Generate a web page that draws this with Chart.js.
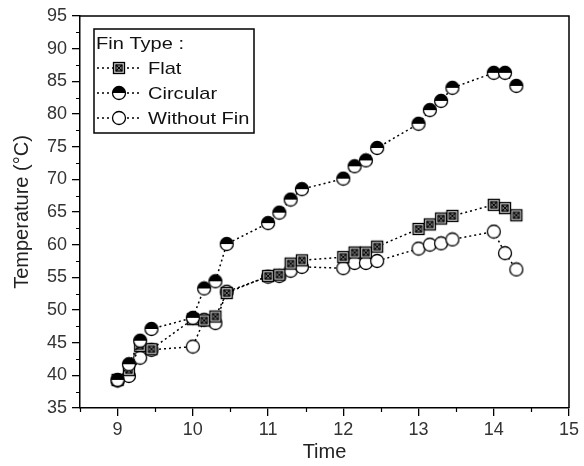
<!DOCTYPE html>
<html>
<head>
<meta charset="utf-8">
<title>Temperature vs Time by Fin Type</title>
<script src="https://cdn.jsdelivr.net/npm/chart.js@4.4.3/dist/chart.umd.min.js"></script>
<style>
  html, body { margin: 0; padding: 0; background: #fff; }
  #chart { display: block; }
</style>
</head>
<body>
<canvas id="chart" width="584" height="466"></canvas>
<script>
/* Temperature readings per fin type, clock time read as hh.mm */
const times = [9.00, 9.15, 9.30, 9.45, 10.00, 10.15, 10.30, 10.45, 11.00, 11.15, 11.30, 11.45,
               12.00, 12.15, 12.30, 12.45, 13.00, 13.15, 13.30, 13.45, 14.00, 14.15, 14.30];
const flatTemps     = [39.3, 40.8, 44.5, 44.0, 48.6, 48.4, 49.0, 52.6, 55.2, 55.4, 57.1, 57.6,
                       58.1, 58.8, 58.8, 59.7, 62.4, 63.1, 64.0, 64.4, 66.1, 65.6, 64.5];
const circularTemps = [39.3, 41.7, 45.3, 47.1, 48.8, 53.3, 54.4, 60.1, 63.3, 64.9, 66.9, 68.5,
                       70.1, 72.0, 72.9, 74.8, 78.5, 80.6, 82.0, 84.0, 86.3, 86.3, 84.3];
const noFinTemps    = [39.2, 39.9, 42.7, 43.9, 44.4, 48.5, 48.0, 52.8, 55.1, 55.2, 56.0, 56.6,
                       56.4, 57.2, 57.2, 57.5, 59.4, 60.0, 60.2, 60.8, 62.0, 58.7, 56.2];
const seriesNames = ['Flat', 'Circular', 'Without Fin'];
const xTickValues = [9, 10, 11, 12, 13, 14, 15];
const legendTitle = 'Fin Type :';
const xTitle = 'Time';
const yTitle = 'Temperature (°C)';

const FONT = '"Liberation Sans", Arial, sans-serif';

/* ── marker images ── */
function makeMarker(kind) {
  const c = document.createElement('canvas');
  c.width = 16; c.height = 16;
  const g = c.getContext('2d');
  g.lineWidth = 1.3;
  g.strokeStyle = '#000';
  if (kind === 'flat') {
    g.fillStyle = '#c8c8c8';
    g.fillRect(2.5, 2.5, 11, 11);
    g.strokeRect(2.5, 2.5, 11, 11);
    g.strokeRect(5, 5, 6, 6);
    g.beginPath();
    g.moveTo(5, 5); g.lineTo(11, 11);
    g.moveTo(11, 5); g.lineTo(5, 11);
    g.stroke();
  } else if (kind === 'circular') {
    g.fillStyle = '#fff';
    g.beginPath(); g.arc(8, 8, 6.5, 0, Math.PI * 2); g.fill();
    g.fillStyle = '#000';
    g.beginPath(); g.arc(8, 8, 6.5, Math.PI, Math.PI * 2); g.closePath(); g.fill();
    g.beginPath(); g.arc(8, 8, 6.5, 0, Math.PI * 2); g.stroke();
  } else {
    g.fillStyle = '#fff';
    g.beginPath(); g.arc(8, 8, 6.5, 0, Math.PI * 2); g.fill(); g.stroke();
  }
  return c;
}
const markers = [makeMarker('flat'), makeMarker('circular'), makeMarker('nofin')];

const toPoints = ys => times.map((t, i) => ({ x: t, y: ys[i] }));
const allTemps = [flatTemps, circularTemps, noFinTemps];
const drawOrder = [2, 1, 3];

/* ── frame, minor ticks and in-plot legend ── */
const extrasPlugin = {
  id: 'extras',
  afterDraw(chart) {
    const { ctx, chartArea: a, scales: { x, y } } = chart;
    ctx.save();
    ctx.strokeStyle = '#000';
    ctx.lineWidth = 1.5;
    ctx.beginPath();
    ctx.moveTo(a.left, a.top); ctx.lineTo(a.right, a.top); ctx.lineTo(a.right, a.bottom);
    ctx.stroke();
    ctx.lineWidth = 1.2;
    ctx.beginPath();
    for (let v = 8.5; v < 15; v += 1) {
      const px = Math.round(x.getPixelForValue(v)) + 0.5;
      ctx.moveTo(px, a.bottom); ctx.lineTo(px, a.bottom + 4);
    }
    for (let v = 37.5; v < 95; v += 5) {
      const py = Math.round(y.getPixelForValue(v)) + 0.5;
      ctx.moveTo(a.left, py); ctx.lineTo(a.left - 4, py);
    }
    ctx.stroke();

    // legend box
    const bx = 94, by = 29, bw = 160, bh = 104;
    ctx.lineWidth = 1.5;
    ctx.fillStyle = '#fff';
    ctx.fillRect(bx, by, bw, bh);
    ctx.strokeRect(bx, by, bw, bh);
    ctx.fillStyle = '#111';
    ctx.font = '17px ' + FONT;
    ctx.textBaseline = 'middle';
    ctx.textAlign = 'left';
    const wideText = (txt, tx, ty) => {
      ctx.save();
      ctx.translate(tx, ty);
      ctx.scale(1.18, 1);
      ctx.fillText(txt, 0, 0);
      ctx.restore();
    };
    wideText(legendTitle, bx + 2, by + 15);
    const rowY = [68, 93, 118];
    seriesNames.forEach((name, i) => {
      const ry = rowY[i];
      ctx.setLineDash([2, 3]);
      ctx.lineWidth = 1.5;
      ctx.beginPath();
      ctx.moveTo(bx + 3, ry); ctx.lineTo(bx + 48, ry);
      ctx.stroke();
      ctx.setLineDash([]);
      ctx.drawImage(markers[i], bx + 25 - 8, ry - 8);
      wideText(name, bx + 54, ry + 1);
    });
    ctx.restore();
  }
};

new Chart(document.getElementById('chart'), {
  type: 'line',
  data: {
    datasets: seriesNames.map((name, i) => ({
      label: name,
      data: toPoints(allTemps[i]),
      borderColor: '#000',
      borderWidth: 1.5,
      borderDash: [2, 3],
      pointStyle: markers[i],
      pointRadius: 7,
      order: drawOrder[i],
      fill: false,
      tension: 0
    }))
  },
  options: {
    responsive: false,
    animation: false,
    layout: { padding: { top: 16, right: 15, left: 0, bottom: 0 } },
    plugins: { legend: { display: false }, tooltip: { enabled: false } },
    scales: {
      x: {
        type: 'linear',
        min: 8.5, max: 15,
        afterBuildTicks: s => { s.ticks = xTickValues.map(v => ({ value: v })); },
        afterFit: s => { s.height = 58; },
        ticks: { color: '#333', padding: 3, maxRotation: 0, font: { family: FONT, size: 18 } },
        grid: { drawOnChartArea: false, tickLength: 8, color: '#000', lineWidth: 1.3 },
        border: { color: '#000', width: 1.5 },
        title: { display: true, text: xTitle, color: '#222', font: { family: FONT, size: 20 },
                 padding: { top: 0, bottom: 2 } }
      },
      y: {
        min: 35, max: 95,
        afterFit: s => { s.width = 80; },
        ticks: { stepSize: 5, color: '#333', padding: 5, font: { family: FONT, size: 18 } },
        grid: { drawOnChartArea: false, tickLength: 8, color: '#000', lineWidth: 1.3 },
        border: { color: '#000', width: 1.5 },
        title: { display: true, text: yTitle, color: '#222', font: { family: FONT, size: 20 },
                 padding: { top: 10, bottom: 0 } }
      }
    }
  },
  plugins: [extrasPlugin]
});
</script>
</body>
</html>
